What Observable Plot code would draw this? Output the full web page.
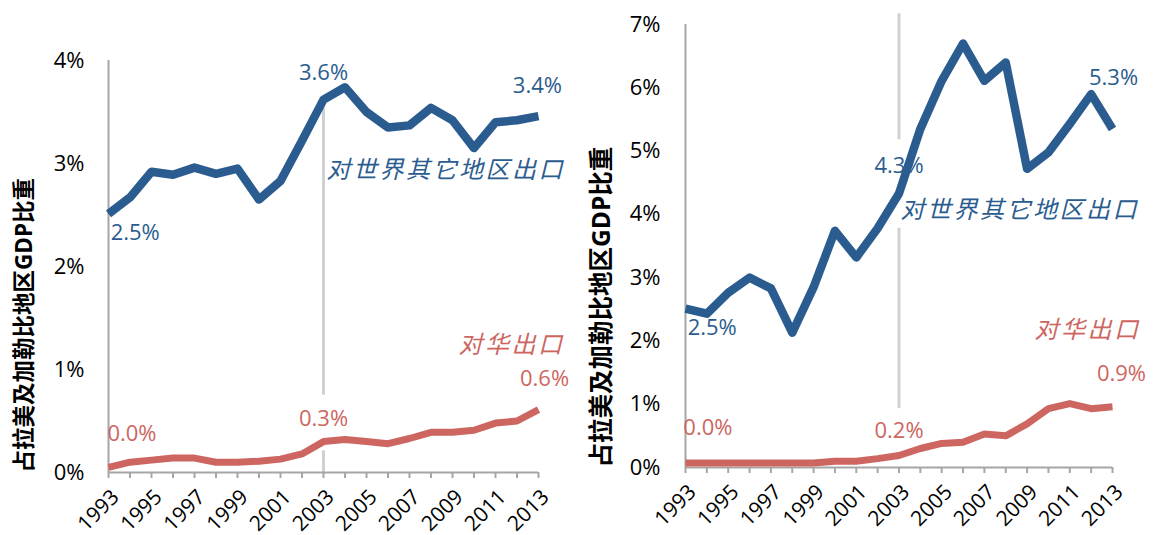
<!DOCTYPE html>
<html>
<head>
<meta charset="utf-8">
<script src="https://cdn.jsdelivr.net/npm/d3@7"></script>
<script src="https://cdn.jsdelivr.net/npm/@observablehq/plot@0.6"></script>
<style>
  body { margin: 0; background: #fff; }
  #wrap { position: relative; width: 1158px; height: 535px; overflow: hidden; }
  #left { position: absolute; left: 0; top: 0; }
  #right { position: absolute; left: 579px; top: 0; }
</style>
</head>
<body>
<div id="wrap"><div id="left"></div><div id="right"></div></div>
<script>
// ---- data ----
const years = [1993,1994,1995,1996,1997,1998,1999,2000,2001,2002,2003,2004,2005,2006,2007,2008,2009,2010,2011,2012,2013];
const xTickLabels = ["1993","1995","1997","1999","2001","2003","2005","2007","2009","2011","2013"];
const yAxisTitle = "占拉美及加勒比地区GDP比重";
const seriesWorldName = "对世界其它地区出口";
const seriesChinaName = "对华出口";

// Left panel
const leftWorld = [2.51,2.67,2.92,2.89,2.96,2.90,2.95,2.65,2.83,3.22,3.62,3.74,3.50,3.35,3.37,3.54,3.42,3.15,3.40,3.42,3.46];
const leftChina = [0.05,0.10,0.12,0.14,0.14,0.10,0.10,0.11,0.13,0.18,0.30,0.32,0.30,0.28,0.33,0.39,0.39,0.41,0.48,0.50,0.61];
const leftYTicks = [0,1,2,3,4];
const leftValueLabels = ["2.5%","3.6%","3.4%","0.0%","0.3%","0.6%"];

// Right panel
const rightWorld = [2.51,2.43,2.76,3.00,2.83,2.13,2.85,3.74,3.32,3.78,4.33,5.35,6.11,6.70,6.11,6.40,4.72,4.98,5.43,5.90,5.35];
const rightChina = [0.07,0.07,0.07,0.07,0.07,0.07,0.07,0.10,0.10,0.14,0.19,0.30,0.38,0.40,0.53,0.50,0.69,0.93,1.01,0.93,0.96];
const rightYTicks = [0,1,2,3,4,5,6,7];
const rightValueLabels = ["2.5%","4.3%","5.3%","0.0%","0.2%","0.9%"];

// ---- styling / layout ----
const BLUE = "#2B5C8F";
const RED = "#CD6661";
const FONT = "'Open Sans','Noto Sans CJK SC',sans-serif";

function panel(cfg) {
  const world = years.map((y, i) => ({year: y, v: cfg.world[i]}));
  const china = years.map((y, i) => ({year: y, v: cfg.china[i]}));
  const L = cfg.labels;
  const ann = [
    {x: cfg.pos[0][0], y: cfg.pos[0][1], t: L[0], a: "start", c: BLUE},
    {x: cfg.pos[1][0], y: cfg.pos[1][1], t: L[1], a: "middle", c: BLUE},
    {x: cfg.pos[2][0], y: cfg.pos[2][1], t: L[2], a: "middle", c: BLUE},
    {x: cfg.pos[3][0], y: cfg.pos[3][1], t: L[3], a: "start", c: RED},
    {x: cfg.pos[4][0], y: cfg.pos[4][1], t: L[4], a: "middle", c: RED},
    {x: cfg.pos[5][0], y: cfg.pos[5][1], t: L[5], a: "middle", c: RED}
  ];
  const names = [
    {x: cfg.namePos[0][0], y: cfg.namePos[0][1], t: seriesWorldName, c: BLUE},
    {x: cfg.namePos[1][0], y: cfg.namePos[1][1], t: seriesChinaName, c: RED}
  ];
  const plot = Plot.plot({
    width: 579,
    height: 535,
    marginLeft: cfg.ml, marginRight: cfg.mr, marginTop: cfg.mt, marginBottom: cfg.mb,
    style: {fontFamily: FONT, fontSize: "21px", color: "#000", background: "transparent", overflow: "visible"},
    x: {domain: [1993, 2013]},
    y: {domain: [0, cfg.yMax]},
    marks: [
      Plot.ruleX(cfg.segments, {x: () => 2003, y1: d => d[0], y2: d => d[1], stroke: "#d0d0d0", strokeWidth: 3}),
      Plot.ruleX([1993], {stroke: "#a6a6a6", strokeWidth: 2}),
      Plot.ruleY([0], {stroke: "#a6a6a6", strokeWidth: 2}),
      Plot.axisY({ticks: cfg.yTicks, tickFormat: d => d + "%", tickSize: 0, tickPadding: cfg.tp, label: null, fontSize: 22}),
      Plot.axisX({ticks: years, tickFormat: () => "", tickSize: 6, stroke: "#a6a6a6", strokeWidth: 2, label: null}),
      Plot.axisX({ticks: xTickLabels.map(Number), tickFormat: d => String(d), tickSize: 0, tickPadding: 21, dx: 7, tickRotate: -45, label: null, fontSize: 21}),
      Plot.text([yAxisTitle], {text: d => d, frameAnchor: "bottom-left", rotate: -90, textAnchor: "start", dx: cfg.titleDx, fontSize: cfg.titleSize, fontWeight: "bold", fill: "#000"}),
      Plot.text(ann.filter(d => d.a === "start"), {x: "x", y: "y", text: "t", textAnchor: "start", fill: "c", fontSize: 22}),
      Plot.text(ann.filter(d => d.a === "middle"), {x: "x", y: "y", text: "t", textAnchor: "middle", fill: "c", fontSize: 22}),
      Plot.text(names, {x: "x", y: "y", text: "t", textAnchor: "start", fill: "c", fontSize: 24, fontStyle: "italic"}),
      Plot.line(china, {x: "year", y: "v", stroke: RED, strokeWidth: 7, strokeLinecap: "butt", strokeLinejoin: "round"}),
      Plot.line(world, {x: "year", y: "v", stroke: BLUE, strokeWidth: 8.5, strokeLinecap: "butt", strokeLinejoin: "round"})
    ]
  });
  plot.querySelectorAll('g[font-style="italic"]').forEach(g => g.setAttribute("letter-spacing", "2.5"));
  return plot;
}

document.getElementById("left").appendChild(panel({
  world: leftWorld, china: leftChina, yTicks: leftYTicks, yMax: 4, labels: leftValueLabels,
  ml: 108, mr: 41, mt: 60, mb: 63, tp: 24, titleDx: -77, titleSize: 22.5,
  pos: [[1993.1, 2.33], [2003, 3.88], [2012.95, 3.75], [1992.95, 0.37], [2003, 0.52], [2013.28, 0.91]],
  namePos: [[2003.14, 2.93], [2009.28, 1.23]],
  segments: [[3.54, 0.75], [0.21, 0]]
}));
document.getElementById("right").appendChild(panel({
  world: rightWorld, china: rightChina, yTicks: rightYTicks, yMax: 7, labels: rightValueLabels,
  ml: 106, mr: 46, mt: 24, mb: 68, tp: 25, titleDx: -76, titleSize: 24.5,
  pos: [[1993.1, 2.20], [2003, 4.76], [2013.05, 6.16], [1992.9, 0.62], [2003, 0.58], [2013.42, 1.48]],
  namePos: [[2003.07, 4.06], [2009.35, 2.16]],
  segments: [[7.17, 5.18], [3.78, 0.93]]
}));
</script>
</body>
</html>
